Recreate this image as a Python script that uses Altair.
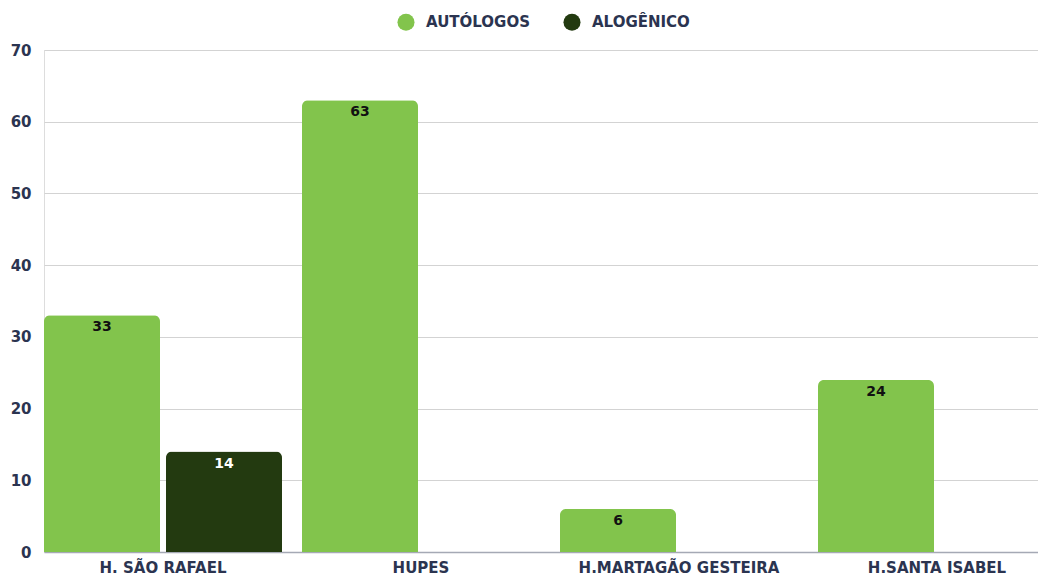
import altair as alt
import pandas as pd

categories = ["H. SÃO RAFAEL", "HUPES", "H.MARTAGÃO GESTEIRA", "H.SANTA ISABEL"]
series = ["AUTÓLOGOS", "ALOGÊNICO"]
autologos = [33, 63, 6, 24]
alogenico = [14, 0, 0, 0]
colors = ["#82C44C", "#233A10"]
y_ticks = [0, 10, 20, 30, 40, 50, 60, 70]

rows = []
for i, c in enumerate(categories):
    rows.append({"Hospital": c, "Tipo": series[0], "Valor": autologos[i]})
    rows.append({"Hospital": c, "Tipo": series[1], "Valor": alogenico[i]})
df = pd.DataFrame(rows)

FONT = "DejaVu Sans"
TXT = "#2B3450"

base = alt.Chart(df).transform_filter("datum.Valor > 0")

x_enc = alt.X("Hospital:N", sort=categories, title=None,
              scale=alt.Scale(range=[0, 1012], paddingInner=20 / 258, paddingOuter=0),
              axis=alt.Axis(labelAngle=0, labelFont=FONT, labelFontSize=15, labelFontWeight="bold",
                            labelColor=TXT, labelPadding=8, labelLimit=400, ticks=False,
                            domainColor="#A5A9B5", domainWidth=1.5, grid=False))
xoff_enc = alt.XOffset("Tipo:N", sort=series,
                       scale=alt.Scale(domain=series, paddingInner=6 / 122, paddingOuter=0))
y_enc = alt.Y("Valor:Q", title=None,
              scale=alt.Scale(domain=[0, 70], nice=False),
              axis=alt.Axis(values=y_ticks, labelFont=FONT, labelFontSize=15, labelFontWeight="bold",
                            labelColor=TXT, labelPadding=13, ticks=False, domain=False,
                            gridColor="#D3D3D3", gridWidth=1))

bars = base.mark_bar(cornerRadiusTopLeft=6, cornerRadiusTopRight=6).encode(
    x=x_enc,
    xOffset=xoff_enc,
    y=y_enc,
    color=alt.Color("Tipo:N", sort=series,
                    scale=alt.Scale(domain=series, range=colors),
                    legend=alt.Legend(title=None, orient="none", direction="horizontal",
                                      legendX=353, legendY=-37, symbolType="circle",
                                      symbolSize=290, symbolStrokeWidth=0,
                                      labelFont=FONT, labelFontSize=15, labelFontWeight="bold",
                                      labelColor=TXT, columnPadding=33, labelOffset=11)),
)

labels = base.mark_text(baseline="top", dy=5, font=FONT, fontSize=14, fontWeight="bold").encode(
    x=alt.X("Hospital:N", sort=categories),
    xOffset=alt.XOffset("Tipo:N", sort=series),
    y=alt.Y("Valor:Q"),
    text=alt.Text("Valor:Q"),
    color=alt.condition("datum.Tipo == 'ALOGÊNICO'", alt.value("#FFFFFF"), alt.value("#111111")),
)

chart = alt.layer(bars, labels).properties(
    width=994, height=502,
    autosize=alt.AutoSizeParams(type="none"),
    padding={"left": 36, "top": 42, "right": 0, "bottom": 27},
).configure_view(stroke=None).configure(background="#FFFFFF")

chart.save("out.html", embed_options={"renderer": "svg", "actions": False})
